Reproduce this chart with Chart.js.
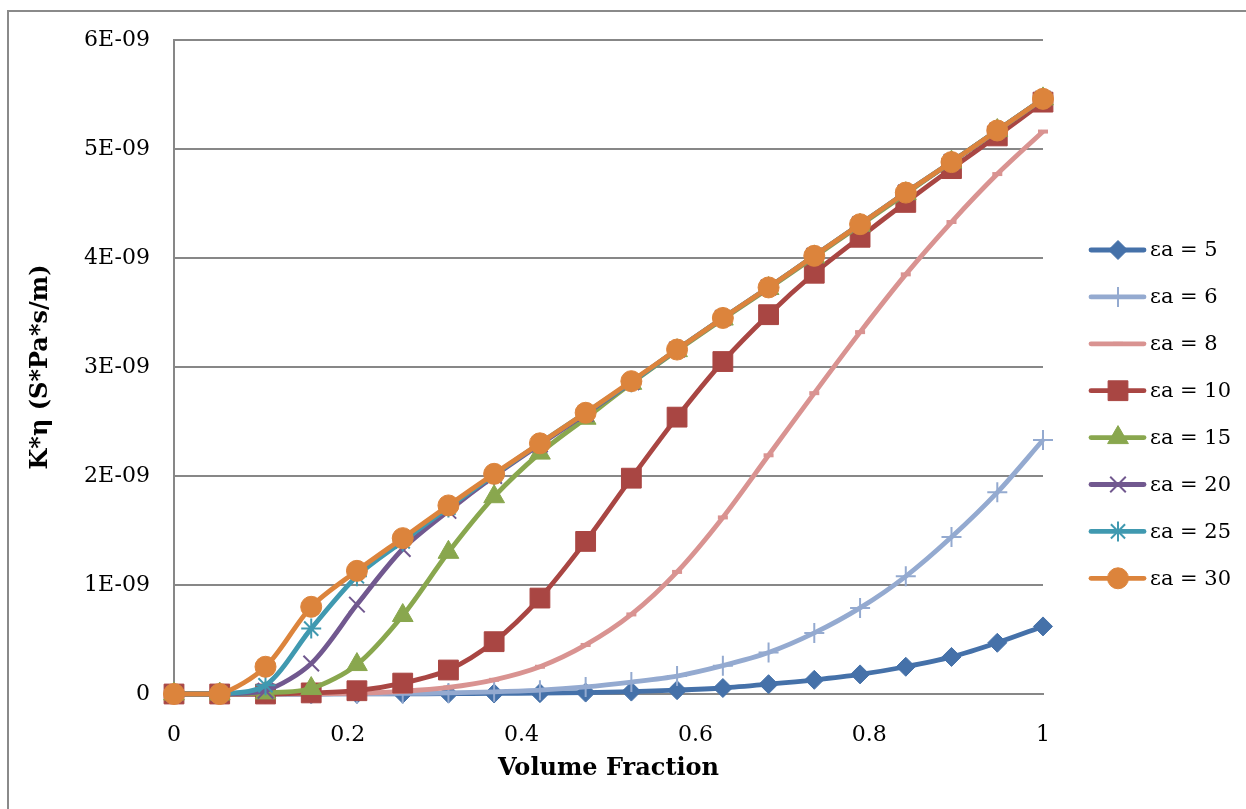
<!DOCTYPE html>
<html>
<head>
<meta charset="utf-8">
<title>K*η vs Volume Fraction</title>
<script src="https://cdn.jsdelivr.net/npm/chart.js@4.4.0/dist/chart.umd.min.js"></script>
<style>
    html, body { margin: 0; padding: 0; background: #fff; overflow: hidden; }
    #wrap { position: relative; width: 1246px; height: 809px; }
    #frame { position: absolute; left: 7px; top: 10px; width: 1300px; height: 900px;
             border: 2px solid #8a8a8a; box-sizing: border-box; }
    #chartBox { position: absolute; left: 0; top: 0; width: 1246px; height: 809px; }
</style>
</head>
<body>
<div id="wrap">
    <div id="frame"></div>
    <div id="chartBox"><canvas id="kEtaChart"></canvas></div>
</div>
<script>
// Volume fraction sample points (x)
const volumeFraction = [0, 0.0526, 0.1053, 0.1579, 0.2105, 0.2632, 0.3158, 0.3684, 0.4211, 0.4737,
                        0.5263, 0.5789, 0.6316, 0.6842, 0.7368, 0.7895, 0.8421, 0.8947, 0.9474, 1];

// K*eta values, in units of 1E-09 S*Pa*s/m
const kEta5  = [0, 0, 0, 0, 0.001, 0.002, 0.003, 0.005, 0.008, 0.013, 0.022, 0.035, 0.055, 0.09, 0.13, 0.18, 0.25, 0.34, 0.47, 0.62];
const kEta6  = [0, 0, 0, 0, 0.003, 0.005, 0.01, 0.02, 0.035, 0.065, 0.11, 0.165, 0.26, 0.38, 0.56, 0.79, 1.08, 1.44, 1.85, 2.33];
const kEta8  = [0, 0, 0, 0.002, 0.008, 0.025, 0.06, 0.13, 0.25, 0.45, 0.73, 1.12, 1.62, 2.19, 2.76, 3.32, 3.85, 4.33, 4.77, 5.16];
const kEta10 = [0, 0, 0, 0.01, 0.03, 0.10, 0.22, 0.48, 0.88, 1.40, 1.98, 2.54, 3.05, 3.48, 3.86, 4.19, 4.51, 4.82, 5.12, 5.43];
const kEta15 = [0, 0, 0.01, 0.05, 0.27, 0.72, 1.30, 1.81, 2.21, 2.53, 2.85, 3.15, 3.44, 3.72, 4.01, 4.30, 4.59, 4.88, 5.17, 5.46];
const kEta20 = [0, 0, 0.03, 0.28, 0.82, 1.33, 1.68, 2.00, 2.29, 2.57, 2.86, 3.16, 3.45, 3.73, 4.02, 4.31, 4.60, 4.88, 5.17, 5.46];
const kEta25 = [0, 0, 0.08, 0.60, 1.08, 1.40, 1.71, 2.01, 2.30, 2.58, 2.86, 3.16, 3.45, 3.73, 4.02, 4.31, 4.60, 4.88, 5.17, 5.46];
const kEta30 = [0, 0, 0.25, 0.80, 1.13, 1.43, 1.73, 2.02, 2.30, 2.58, 2.87, 3.16, 3.45, 3.73, 4.02, 4.31, 4.60, 4.88, 5.17, 5.46];

const seriesLabels = ['εa = 5', 'εa = 6', 'εa = 8', 'εa = 10', 'εa = 15', 'εa = 20', 'εa = 25', 'εa = 30'];
const xTickLabels = ['0', '0.2', '0.4', '0.6', '0.8', '1'];
const yTickLabels = ['0', '1E-09', '2E-09', '3E-09', '4E-09', '5E-09', '6E-09'];

const FONT = "'DejaVu Serif', 'Liberation Serif', serif";
const GRID = '#878787';

function series(values) {
    return values.map((v, i) => ({ x: volumeFraction[i], y: v }));
}

function makeDataset(label, values, color, style, radius, borderWidth, idx) {
    return {
        label: label,
        data: series(values),
        borderColor: color,
        backgroundColor: color,
        borderWidth: 4.8,
        pointStyle: style,
        pointRadius: radius,
        pointHoverRadius: radius,
        pointBorderWidth: borderWidth,
        pointBackgroundColor: color,
        pointBorderColor: color,
        tension: 0.3,
        clip: false,
        order: 7 - idx   // last series drawn on top
    };
}

const datasets = [
    makeDataset(seriesLabels[0], kEta5,  '#4571A9', 'rectRot',  9.5, 1, 0),
    makeDataset(seriesLabels[1], kEta6,  '#94AAD0', 'cross',    10, 2, 1),
    makeDataset(seriesLabels[2], kEta8,  '#D99391', 'line',     5, 4, 2),
    makeDataset(seriesLabels[3], kEta10, '#A94643', 'rect',     14, 1, 3),
    makeDataset(seriesLabels[4], kEta15, '#89A74E', 'triangle', 12, 1, 4),
    makeDataset(seriesLabels[5], kEta20, '#71588F', 'crossRot', 11, 2, 5),
    makeDataset(seriesLabels[6], kEta25, '#4099B0', 'star',     10, 2, 6),
    makeDataset(seriesLabels[7], kEta30, '#DC843C', 'circle',   10.5, 1, 7)
];

// Legend with line + marker samples, stacked at the right
const sideLegend = {
    id: 'sideLegend',
    afterDraw(chart) {
        const ctx = chart.ctx;
        chart.data.datasets.forEach((ds, i) => {
            const y = 250 + i * 46.9;
            ctx.save();
            ctx.strokeStyle = ds.borderColor;
            ctx.fillStyle = ds.backgroundColor;
            ctx.lineWidth = ds.borderWidth;
            ctx.lineCap = 'round';
            ctx.beginPath();
            ctx.moveTo(1091, y);
            ctx.lineTo(1144, y);
            ctx.stroke();
            ctx.lineWidth = ds.pointBorderWidth;
            ctx.lineCap = 'butt';
            Chart.helpers.drawPoint(ctx, {
                pointStyle: ds.pointStyle,
                radius: ds.pointRadius,
                borderWidth: ds.pointBorderWidth,
                rotation: 0
            }, 1118, y);
            ctx.fillStyle = '#000';
            ctx.font = "21px " + FONT;
            ctx.textBaseline = 'middle';
            ctx.textAlign = 'left';
            ctx.fillText(ds.label, 1150, y + 1);
            ctx.restore();
        });
    }
};

const ctx = document.getElementById('kEtaChart').getContext('2d');
const kEtaChart = new Chart(ctx, {
    type: 'line',
    data: { datasets: datasets },
    options: {
        responsive: true,
        maintainAspectRatio: false,
        animation: false,
        layout: { padding: { left: 20, right: 203, top: 40, bottom: 20 } },
        plugins: {
            legend: { display: false },
            tooltip: { enabled: false }
        },
        scales: {
            x: {
                type: 'linear',
                min: 0,
                max: 1,
                afterFit: (scale) => { scale.height = 95; },
                ticks: {
                    stepSize: 0.2,
                    padding: 28,
                    color: '#000',
                    font: { family: FONT, size: 22 },
                    maxRotation: 0,
                    callback: (v, i) => xTickLabels[i]
                },
                grid: { display: false, drawTicks: false },
                border: { display: true, color: GRID, width: 2 },
                title: {
                    display: true,
                    text: 'Volume Fraction',
                    color: '#000',
                    font: { family: FONT, size: 24, weight: 'bold' },
                    padding: { top: 4, bottom: 6 }
                }
            },
            y: {
                min: 0,
                max: 6,
                afterFit: (scale) => { scale.width = 154; },
                ticks: {
                    stepSize: 1,
                    padding: 24,
                    color: '#000',
                    font: { family: FONT, size: 22 },
                    callback: (v) => yTickLabels[Math.round(v)]
                },
                grid: { color: GRID, lineWidth: 2, drawTicks: false },
                border: { display: true, color: GRID, width: 2 },
                title: {
                    display: true,
                    text: 'K*η (S*Pa*s/m)',
                    color: '#000',
                    font: { family: FONT, size: 24, weight: 'bold' },
                    padding: { top: 6, bottom: 4 }
                }
            }
        }
    },
    plugins: [sideLegend]
});
</script>
</body>
</html>
